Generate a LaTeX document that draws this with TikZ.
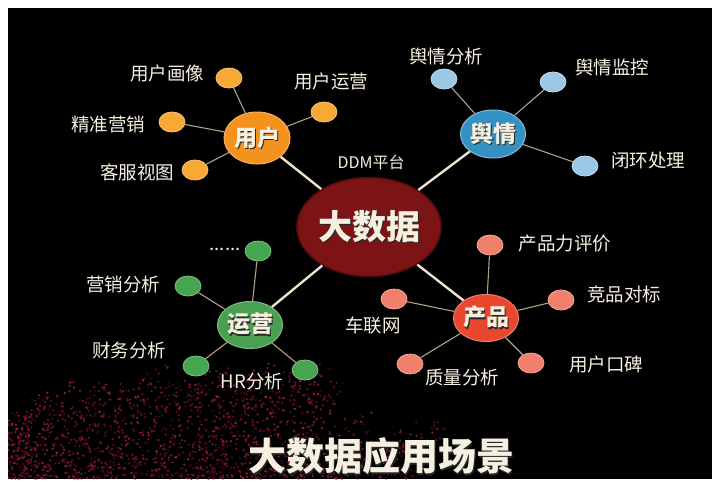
\documentclass[tikz,border=0pt]{standalone}
\usepackage{fontspec}
\setmainfont{Noto Sans CJK SC}
\usetikzlibrary{shapes.geometric}

\definecolor{cream}{RGB}{246,240,224}
\definecolor{hubline}{RGB}{236,228,204}
\definecolor{leafline}{RGB}{176,162,134}
\definecolor{hubred}{RGB}{124,20,22}
\definecolor{userorg}{RGB}{244,146,30}
\definecolor{userleaf}{RGB}{248,168,52}
\definecolor{opblue}{RGB}{52,145,195}
\definecolor{opleaf}{RGB}{155,200,228}
\definecolor{opsgreen}{RGB}{72,160,80}
\definecolor{opsleaf}{RGB}{70,165,80}
\definecolor{prodred}{RGB}{232,72,45}
\definecolor{prodleaf}{RGB}{240,128,108}
\definecolor{sprayA}{RGB}{105,14,44}
\definecolor{sprayB}{RGB}{195,38,72}

% text with a soft drop shadow
\newcommand\shd[1]{\makebox[0pt][l]{\kern1.3pt\raisebox{-1.3pt}{\textcolor{black!85}{#1}}}#1}

\tikzset{
  hub/.style={ellipse, fill=hubred, draw=hubred!65!black, line width=1.5pt,
    minimum width=124pt, minimum height=99pt, inner sep=0pt,
    text=cream, font=\bfseries\fontsize{34}{34}\selectfont},
  cat/.style={ellipse, line width=1pt, inner sep=0pt,
    text=cream, font=\bfseries\fontsize{23}{23}\selectfont},
  leaf/.style={ellipse, minimum width=26pt, minimum height=20pt, inner sep=0pt, line width=0.8pt},
  lbl/.style={text=cream, inner sep=0pt, font=\fontsize{18.5}{20}\selectfont},
  ddmtext/.style={text=cream, inner sep=0pt, font=\fontsize{16}{18}\selectfont},
  titletext/.style={text=cream, inner sep=0pt, font=\bfseries\fontsize{38}{40}\selectfont},
  hubedge/.style={draw=hubline, line width=2.4pt},
  leafedge/.style={draw=leafline, line width=1.1pt},
}

\begin{document}
\begin{tikzpicture}[x=1pt,y=-1pt]
\useasboundingbox (0,0) rectangle (722,483);
\fill[white] (0,0) rectangle (722,483);
\fill[black] (8,8) rectangle (712,479);

% particle spray rising from the lower left in slanted streaks
\begin{scope}
  \clip (8,8) rectangle (712,479);
  \pgfmathsetseed{42}
  \foreach \s in {0,...,64}{
    \pgfmathsetmacro\spx{-70+\s*7.5+6*rnd}
    \pgfmathsetmacro\sph{(\spx<300) ? (min(35+0.33*(\spx+70),95)+30*rnd) : (25+45*rnd)}
    \pgfmathsetmacro\spn{(\spx<300) ? int(20+40*rnd) : 16}
    \foreach \k in {1,...,\spn}{
      \pgfmathsetmacro\spu{rnd^1.2}
      \pgfmathsetmacro\spd{\sph*\spu}
      \pgfmathsetmacro\spxx{\spx+0.45*\spd+8*rand}
      \pgfmathsetmacro\spyy{479-\spd}
      \pgfmathsetmacro\spm{int(100*rnd)}
      \pgfmathsetmacro\spo{0.35+0.5*rnd}
      \fill[sprayA!\spm!sprayB, opacity=\spo] (\spxx,\spyy) circle (1.25);
    }
  }
\end{scope}

% central hub and category nodes
\node[hub] (core) at (369,227) {\shd{大数据}};
\node[ddmtext] (ddm) at (371,162) {DDM平台};

\node[cat, fill=userorg, draw=userorg!70!white, minimum width=66pt, minimum height=52pt] (user) at (257,138) {\shd{用户}};
\node[cat, fill=opblue, draw=opblue!60!white, minimum width=63pt, minimum height=48pt] (yq) at (493,134) {\shd{舆情}};
\node[cat, fill=opsgreen, draw=opsgreen!70!white, minimum width=58pt, minimum height=47pt] (ops) at (250,325) {\shd{运营}};
\node[cat, fill=prodred, draw=prodred!70!white, minimum width=62pt, minimum height=47pt] (prod) at (486,318) {\shd{产品}};

% leaves
\node[leaf, fill=userleaf, draw=userleaf!70!white] (u1) at (229,78) {};
\node[leaf, fill=userleaf, draw=userleaf!70!white] (u2) at (172,122) {};
\node[leaf, fill=userleaf, draw=userleaf!70!white] (u3) at (195,170) {};
\node[leaf, fill=userleaf, draw=userleaf!70!white] (u4) at (324,112) {};

\node[leaf, fill=opleaf, draw=opleaf!70!white] (y1) at (444,79) {};
\node[leaf, fill=opleaf, draw=opleaf!70!white] (y2) at (553,82) {};
\node[leaf, fill=opleaf, draw=opleaf!70!white] (y3) at (585,166) {};

\node[leaf, fill=opsleaf, draw=opsleaf!70!white] (o1) at (258,251) {};
\node[leaf, fill=opsleaf, draw=opsleaf!70!white] (o2) at (188,286) {};
\node[leaf, fill=opsleaf, draw=opsleaf!70!white] (o3) at (196,366) {};
\node[leaf, fill=opsleaf, draw=opsleaf!70!white] (o4) at (305,370) {};

\node[leaf, fill=prodleaf, draw=prodleaf!70!white] (p1) at (490,245) {};
\node[leaf, fill=prodleaf, draw=prodleaf!70!white] (p2) at (561,300) {};
\node[leaf, fill=prodleaf, draw=prodleaf!70!white] (p3) at (394,299) {};
\node[leaf, fill=prodleaf, draw=prodleaf!70!white] (p4) at (410,364) {};
\node[leaf, fill=prodleaf, draw=prodleaf!70!white] (p5) at (531,363) {};

% leaf labels
\node[lbl] (lu1) at (167,73) {用户画像};
\node[lbl] (lu2) at (108,124) {精准营销};
\node[lbl] (lu3) at (137,172) {客服视图};
\node[lbl] (lu4) at (331,81) {用户运营};

\node[lbl] (ly1) at (446,56) {舆情分析};
\node[lbl] (ly2) at (612,67) {舆情监控};
\node[lbl] (ly3) at (648,160) {闭环处理};

\node[lbl] (lo1) at (225,249) {......};
\node[lbl] (lo2) at (123,284) {营销分析};
\node[lbl] (lo3) at (129,350) {财务分析};
\node[lbl] (lo4) at (252,381) {HR分析};

\node[lbl] (lp1) at (565,244) {产品力评价};
\node[lbl] (lp2) at (624,294) {竞品对标};
\node[lbl] (lp3) at (373,325) {车联网};
\node[lbl] (lp4) at (462,377) {质量分析};
\node[lbl] (lp5) at (606,364) {用户口碑};

% connectors
\foreach \c in {user,yq,ops,prod} \draw[hubedge] (core) -- (\c);
\foreach \l in {u1,u2,u3,u4} \draw[leafedge] (user) -- (\l);
\foreach \l in {y1,y2,y3} \draw[leafedge] (yq) -- (\l);
\foreach \l in {o1,o2,o3,o4} \draw[leafedge] (ops) -- (\l);
\foreach \l in {p1,p2,p3,p4,p5} \draw[leafedge] (prod) -- (\l);

% title
\node[titletext] (title) at (381,457) {\shd{大数据应用场景}};
\end{tikzpicture}
\end{document}
